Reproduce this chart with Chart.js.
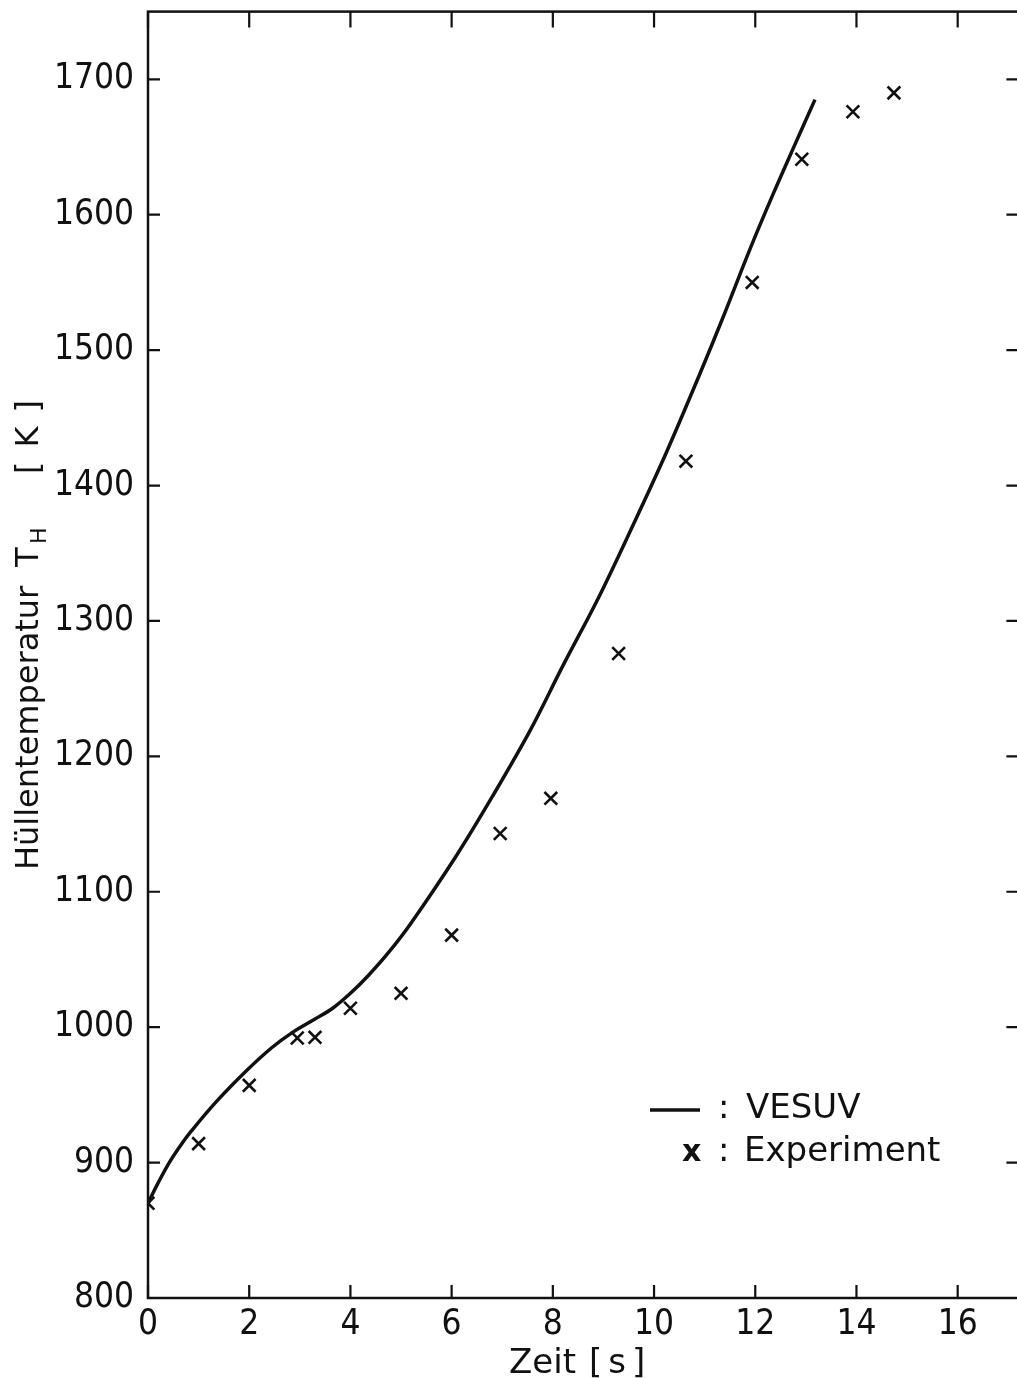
<!DOCTYPE html>
<html>
<head>
<meta charset="utf-8">
<script src="https://cdn.jsdelivr.net/npm/chart.js@4.4.1/dist/chart.umd.min.js"></script>
<style>
  html, body { margin: 0; padding: 0; background: #fff; overflow: hidden; }
  #wrap { position: absolute; left: 0; top: 0; width: 1030px; height: 1378px; }
</style>
</head>
<body>
<div id="wrap"><canvas id="c"></canvas></div>
<script>
// ---- data ----
const timeVesuv = [0, 0.2, 0.42, 0.65, 0.85, 1.35, 1.95, 2.45, 2.85, 3.3, 3.65, 4.0, 4.35, 4.75, 5.2, 6.1, 6.8, 7.55, 8.2, 8.9, 9.6, 10.25, 10.9, 11.35, 11.9, 12.35, 12.75, 13.18];
const tempVesuv = [870, 885, 900, 913, 923, 945, 968, 985, 996, 1006, 1014, 1025, 1038, 1055, 1077, 1127, 1170, 1219, 1267, 1317, 1372, 1425, 1482, 1523, 1575, 1615, 1649, 1685];
const timeExp = [0, 1, 2, 2.95, 3.3, 4, 5, 6, 6.96, 7.96, 9.3, 10.63, 11.94, 12.92, 13.93, 14.74];
const tempExp = [870, 914, 957, 992, 992.5, 1014, 1025, 1068, 1143, 1169, 1276, 1418, 1550, 1641, 1676, 1690];
const xTicks = [0, 2, 4, 6, 8, 10, 12, 14, 16];
const yTicks = [800, 900, 1000, 1100, 1200, 1300, 1400, 1500, 1600, 1700];
const xTitleWord = 'Zeit';
const xTitleUnit = '[s]';
const yTitleWord = 'Hüllentemperatur';
const yTitleSym = 'T';
const yTitleSub = 'H';
const yTitleUnit = '[K]';
const legendLine = 'VESUV';
const legendMarks = 'Experiment';

const INK = '#111';
const TICKFONT = "'Liberation Sans Narrow', 'DejaVu Sans Condensed', sans-serif";
const TEXTFONT = "'DejaVu Sans', sans-serif";

const framePlugin = {
  id: 'frame',
  afterDraw(chart) {
    const { ctx, chartArea: a, scales: { x, y } } = chart;
    ctx.save();
    ctx.strokeStyle = INK;
    ctx.lineWidth = 2.5;
    ctx.strokeRect(a.left, a.top, a.right - a.left, a.bottom - a.top);
    ctx.lineWidth = 2.2;
    ctx.beginPath();
    xTicks.forEach(v => {
      const px = x.getPixelForValue(v);
      ctx.moveTo(px, a.bottom); ctx.lineTo(px, a.bottom - 13);
      ctx.moveTo(px, a.top); ctx.lineTo(px, a.top + 16);
    });
    yTicks.forEach(v => {
      const py = y.getPixelForValue(v);
      ctx.moveTo(a.left, py); ctx.lineTo(a.left + 12, py);
      ctx.moveTo(a.right, py); ctx.lineTo(a.right - 12, py);
    });
    ctx.stroke();

    // x axis title
    ctx.fillStyle = INK;
    ctx.textBaseline = 'alphabetic';
    ctx.textAlign = 'left';
    ctx.font = '34px ' + TEXTFONT;
    ctx.fillText(xTitleWord, 509, 1373);
    ctx.letterSpacing = '6px';
    ctx.fillText(xTitleUnit, 589, 1373);
    ctx.letterSpacing = '0px';

    // y axis title (rotated, with subscript)
    ctx.save();
    ctx.translate(38, 870);
    ctx.rotate(-Math.PI / 2);
    ctx.font = '32px ' + TEXTFONT;
    ctx.fillText(yTitleWord, 0, 0);
    ctx.fillText(yTitleSym, 303, 0);
    ctx.font = '22px ' + TEXTFONT;
    ctx.fillText(yTitleSub, 326, 8);
    ctx.font = '32px ' + TEXTFONT;
    ctx.letterSpacing = '14px';
    ctx.fillText(yTitleUnit, 396, 0);
    ctx.letterSpacing = '0px';
    ctx.restore();

    // legend
    ctx.lineWidth = 3.5;
    ctx.beginPath();
    ctx.moveTo(650, 1110); ctx.lineTo(700, 1110);
    ctx.stroke();
    ctx.font = '34px ' + TEXTFONT;
    ctx.fillText(':', 718, 1118);
    ctx.fillText(legendLine, 746, 1118);
    ctx.font = 'bold 30px ' + TEXTFONT;
    ctx.fillText('x', 682, 1161);
    ctx.font = '34px ' + TEXTFONT;
    ctx.fillText(':', 718, 1161);
    ctx.fillText(legendMarks, 744, 1161);
    ctx.restore();
  }
};

new Chart(document.getElementById('c'), {
  type: 'scatter',
  data: {
    datasets: [
      {
        label: legendLine,
        type: 'line',
        data: timeVesuv.map((t, i) => ({ x: t, y: tempVesuv[i] })),
        borderColor: INK,
        borderWidth: 3.5,
        pointRadius: 0,
        fill: false,
        tension: 0.35
      },
      {
        label: legendMarks,
        data: timeExp.map((t, i) => ({ x: t, y: tempExp[i] })),
        pointStyle: 'crossRot',
        pointRadius: 9,
        pointBorderWidth: 2.6,
        borderColor: INK,
        backgroundColor: INK,
        showLine: false
      }
    ]
  },
  options: {
    responsive: true,
    maintainAspectRatio: false,
    animation: false,
    layout: { padding: { top: 11, right: 11, left: 0, bottom: 0 } },
    plugins: { legend: { display: false }, tooltip: { enabled: false } },
    scales: {
      x: {
        type: 'linear',
        min: 0, max: 17.2,
        afterFit(s) { s.height = 80; s.paddingLeft = 0; s.paddingRight = 0; },
        afterBuildTicks(s) { s.ticks = xTicks.map(v => ({ value: v })); },
        grid: { display: false, drawTicks: false },
        border: { display: false },
        ticks: {
          color: INK,
          padding: 6,
          font: { family: TICKFONT, size: 35 },
          maxRotation: 0,
          autoSkip: false,
          callback: v => String(v)
        }
      },
      y: {
        type: 'linear',
        min: 800, max: 1750,
        afterFit(s) { s.width = 148; s.paddingTop = 0; s.paddingBottom = 0; },
        afterBuildTicks(s) { s.ticks = yTicks.map(v => ({ value: v })); },
        grid: { display: false, drawTicks: false },
        border: { display: false },
        ticks: {
          color: INK,
          padding: 14,
          font: { family: TICKFONT, size: 35 },
          autoSkip: false,
          callback: v => String(v)
        }
      }
    }
  },
  plugins: [framePlugin]
});
</script>
</body>
</html>
